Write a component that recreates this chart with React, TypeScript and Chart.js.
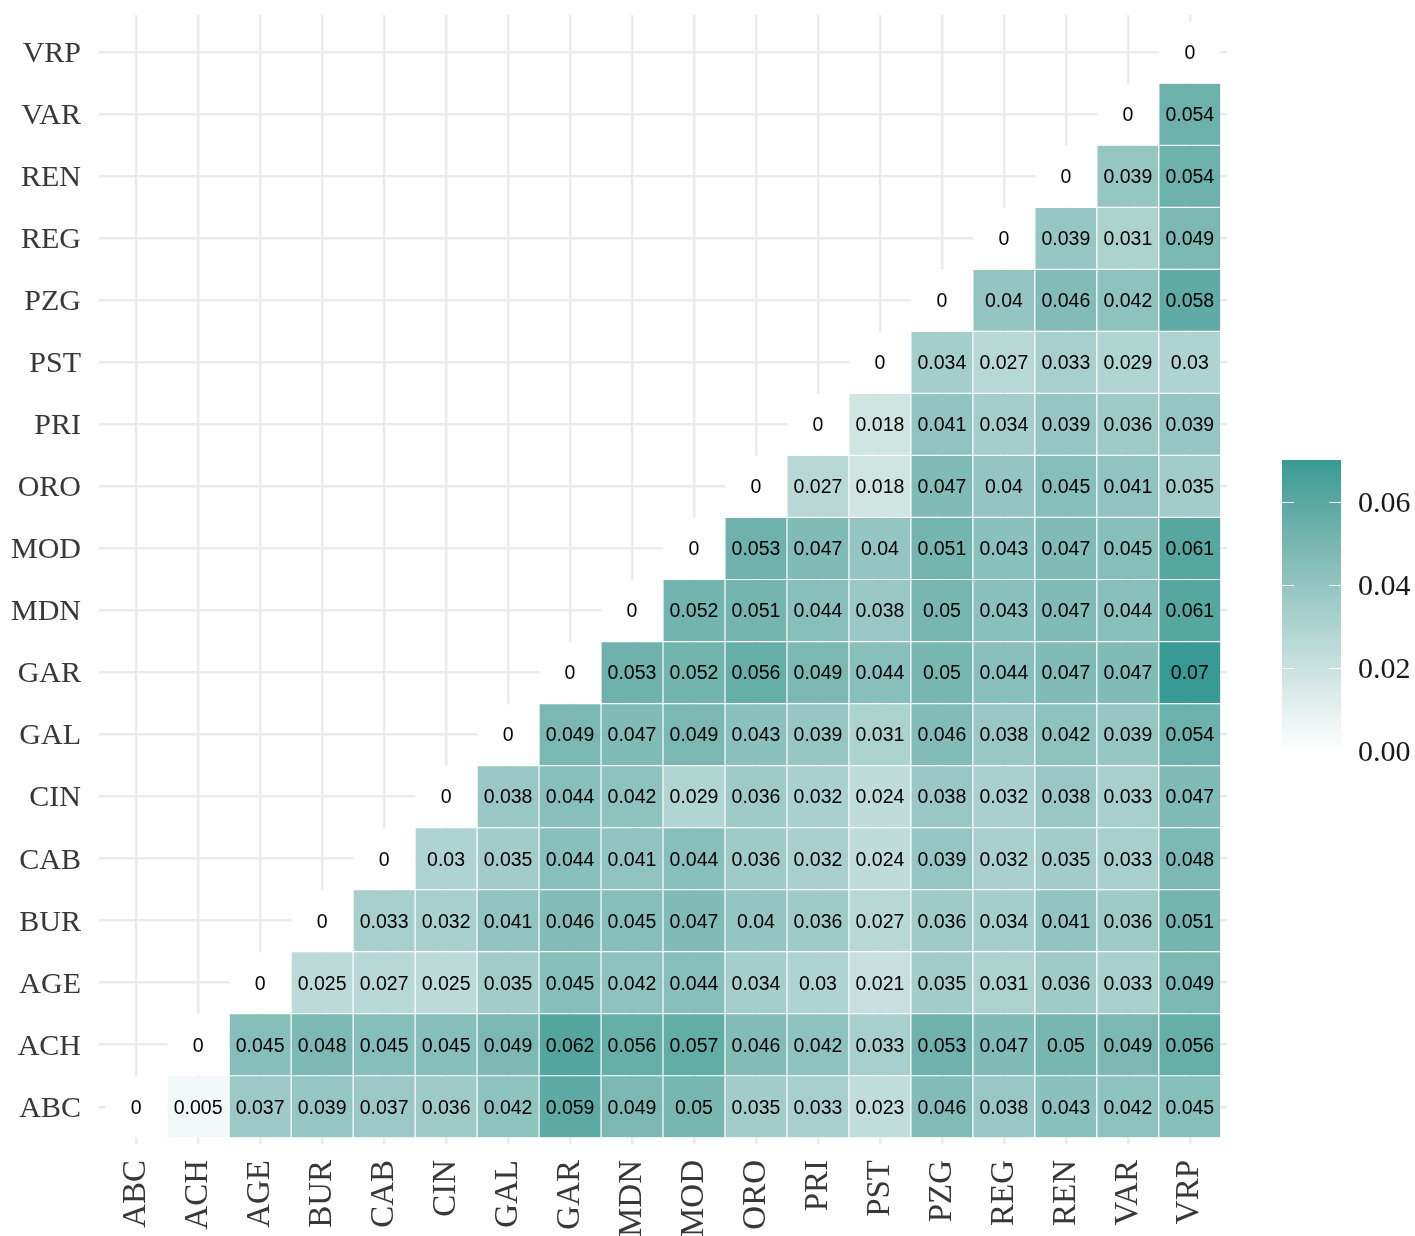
import React, { useEffect, useRef } from "react";
import { Chart, registerables } from "chart.js";

Chart.register(...registerables);

// Population codes, in axis order (bottom-to-top on y, left-to-right on x)
const populations = [
  "ABC", "ACH", "AGE", "BUR", "CAB", "CIN", "GAL", "GAR", "MDN",
  "MOD", "ORO", "PRI", "PST", "PZG", "REG", "REN", "VAR", "VRP",
];

// Pairwise distances: each row starts at its own diagonal cell and runs to VRP
const rowABC = [0, 0.005, 0.037, 0.039, 0.037, 0.036, 0.042, 0.059, 0.049, 0.05, 0.035, 0.033, 0.023, 0.046, 0.038, 0.043, 0.042, 0.045];
const rowACH = [0, 0.045, 0.048, 0.045, 0.045, 0.049, 0.062, 0.056, 0.057, 0.046, 0.042, 0.033, 0.053, 0.047, 0.05, 0.049, 0.056];
const rowAGE = [0, 0.025, 0.027, 0.025, 0.035, 0.045, 0.042, 0.044, 0.034, 0.03, 0.021, 0.035, 0.031, 0.036, 0.033, 0.049];
const rowBUR = [0, 0.033, 0.032, 0.041, 0.046, 0.045, 0.047, 0.04, 0.036, 0.027, 0.036, 0.034, 0.041, 0.036, 0.051];
const rowCAB = [0, 0.03, 0.035, 0.044, 0.041, 0.044, 0.036, 0.032, 0.024, 0.039, 0.032, 0.035, 0.033, 0.048];
const rowCIN = [0, 0.038, 0.044, 0.042, 0.029, 0.036, 0.032, 0.024, 0.038, 0.032, 0.038, 0.033, 0.047];
const rowGAL = [0, 0.049, 0.047, 0.049, 0.043, 0.039, 0.031, 0.046, 0.038, 0.042, 0.039, 0.054];
const rowGAR = [0, 0.053, 0.052, 0.056, 0.049, 0.044, 0.05, 0.044, 0.047, 0.047, 0.07];
const rowMDN = [0, 0.052, 0.051, 0.044, 0.038, 0.05, 0.043, 0.047, 0.044, 0.061];
const rowMOD = [0, 0.053, 0.047, 0.04, 0.051, 0.043, 0.047, 0.045, 0.061];
const rowORO = [0, 0.027, 0.018, 0.047, 0.04, 0.045, 0.041, 0.035];
const rowPRI = [0, 0.018, 0.041, 0.034, 0.039, 0.036, 0.039];
const rowPST = [0, 0.034, 0.027, 0.033, 0.029, 0.03];
const rowPZG = [0, 0.04, 0.046, 0.042, 0.058];
const rowREG = [0, 0.039, 0.031, 0.049];
const rowREN = [0, 0.039, 0.054];
const rowVAR = [0, 0.054];
const rowVRP = [0];

const rows = [
  rowABC, rowACH, rowAGE, rowBUR, rowCAB, rowCIN, rowGAL, rowGAR, rowMDN,
  rowMOD, rowORO, rowPRI, rowPST, rowPZG, rowREG, rowREN, rowVAR, rowVRP,
];

// Colour bar breaks
const legendTicks = [0, 0.02, 0.04, 0.06];

const LOW_COLOR = "#FFFFFF";
const HIGH_COLOR = "#379A94";

// ---- colour ramp, interpolated in CIE Lab ----
function hexToRgb(hex: string): number[] {
  const h = hex.replace("#", "");
  return [0, 2, 4].map((i) => parseInt(h.slice(i, i + 2), 16));
}
function toLinear(c: number) {
  const v = c / 255;
  return v <= 0.04045 ? v / 12.92 : Math.pow((v + 0.055) / 1.055, 2.4);
}
function toSrgb(c: number) {
  const v = c <= 0.0031308 ? 12.92 * c : 1.055 * Math.pow(c, 1 / 2.4) - 0.055;
  return Math.round(Math.min(1, Math.max(0, v)) * 255);
}
const EPS = 216 / 24389;
const KAPPA = 24389 / 27;
function rgbToLab(rgb: number[]): number[] {
  const [R, G, B] = rgb.map(toLinear);
  const X = (0.4124564 * R + 0.3575761 * G + 0.1804375 * B) / 0.95047;
  const Y = 0.2126729 * R + 0.7151522 * G + 0.072175 * B;
  const Z = (0.0193339 * R + 0.119192 * G + 0.9503041 * B) / 1.08883;
  const f = (t: number) => (t > EPS ? Math.cbrt(t) : (KAPPA * t + 16) / 116);
  const fx = f(X), fy = f(Y), fz = f(Z);
  return [116 * fy - 16, 500 * (fx - fy), 200 * (fy - fz)];
}
function labToRgb(lab: number[]): number[] {
  const [L, a, b] = lab;
  const fy = (L + 16) / 116;
  const fx = fy + a / 500;
  const fz = fy - b / 200;
  const inv = (t: number) => (t * t * t > EPS ? t * t * t : (116 * t - 16) / KAPPA);
  const X = inv(fx) * 0.95047, Y = inv(fy), Z = inv(fz) * 1.08883;
  const R = 3.2404542 * X - 1.5371385 * Y - 0.4985314 * Z;
  const G = -0.969266 * X + 1.8760108 * Y + 0.041556 * Z;
  const Bl = 0.0556434 * X - 0.2040259 * Y + 1.0572252 * Z;
  return [toSrgb(R), toSrgb(G), toSrgb(Bl)];
}
const lowLab = rgbToLab(hexToRgb(LOW_COLOR));
const highLab = rgbToLab(hexToRgb(HIGH_COLOR));
const maxValue = Math.max(...rows.flat());

function colorFor(v: number): string {
  const t = Math.min(1, Math.max(0, v / maxValue));
  const lab = lowLab.map((l, i) => l + (highLab[i] - l) * t);
  const [r, g, b] = labToRgb(lab);
  return `rgb(${r},${g},${b})`;
}

// One floating bar per tile: x = column, y spans the row band
type Cell = { x: number; y: [number, number]; v: number };
const cells: Cell[] = [];
rows.forEach((row, j) => {
  row.forEach((v, k) => {
    cells.push({ x: j + k, y: [j - 0.5, j + 0.5], v });
  });
});

const AXIS_COLOR = "#383838";
const GRID_COLOR = "#EBEBEB";
const SERIF = '"Liberation Serif", "Times New Roman", serif';
const SANS = '"Liberation Sans", Arial, sans-serif';

// Values printed at the centre of each tile
const tileLabelPlugin = {
  id: "tileLabels",
  afterDatasetsDraw(chart: any) {
    const { ctx, scales } = chart;
    ctx.save();
    ctx.font = `19.5px ${SANS}`;
    ctx.fillStyle = "#000000";
    ctx.textAlign = "center";
    ctx.textBaseline = "middle";
    cells.forEach((c) => {
      const px = scales.x.getPixelForValue(c.x);
      const py = scales.y.getPixelForValue((c.y[0] + c.y[1]) / 2);
      ctx.fillText(String(c.v), px, py + 1.5);
    });
    ctx.restore();
  },
};

// Population names along the y axis
const yLabelPlugin = {
  id: "yLabels",
  afterDraw(chart: any) {
    const { ctx, scales, chartArea } = chart;
    ctx.save();
    ctx.font = `30px ${SERIF}`;
    ctx.fillStyle = AXIS_COLOR;
    ctx.textAlign = "right";
    ctx.textBaseline = "middle";
    populations.forEach((name, i) => {
      ctx.fillText(name, chartArea.left - 18, scales.y.getPixelForValue(i) + 2);
    });
    ctx.restore();
  },
};

// Continuous colour bar legend on the right
const colorbarPlugin = {
  id: "colorbar",
  afterDraw(chart: any) {
    const { ctx } = chart;
    const left = 1282;
    const width = 59;
    const zeroY = 751;
    const barHeight = 291;
    const topY = zeroY - barHeight;
    const pxPerUnit = barHeight / maxValue;
    ctx.save();
    const grad = ctx.createLinearGradient(0, zeroY, 0, topY);
    const steps = 40;
    for (let k = 0; k <= steps; k++) {
      grad.addColorStop(k / steps, colorFor((k / steps) * maxValue));
    }
    ctx.fillStyle = grad;
    ctx.fillRect(left, topY, width, barHeight);

    const tickLen = width * 0.2;
    ctx.strokeStyle = "#FFFFFF";
    ctx.lineWidth = 1;
    ctx.font = `30px ${SERIF}`;
    ctx.fillStyle = "#1A1A1A";
    ctx.textAlign = "left";
    ctx.textBaseline = "middle";
    legendTicks.forEach((t) => {
      const y = Math.round(zeroY - t * pxPerUnit) + 0.5;
      ctx.beginPath();
      ctx.moveTo(left, y);
      ctx.lineTo(left + tickLen, y);
      ctx.moveTo(left + width - tickLen, y);
      ctx.lineTo(left + width, y);
      ctx.stroke();
      ctx.fillText(t.toFixed(2), 1358, y + 2);
    });
    ctx.restore();
  },
};

const integerTicks = (scale: any) => {
  scale.ticks = populations.map((_, i) => ({ value: i }));
};

export default function App() {
  const canvasRef = useRef<HTMLCanvasElement>(null);

  useEffect(() => {
    document.body.style.margin = "0";
    const canvas = canvasRef.current;
    if (!canvas) return;
    const chart = new Chart(canvas, {
      type: "bar",
      data: {
        datasets: [
          {
            data: cells as any,
            grouped: false,
            barPercentage: 1,
            categoryPercentage: 1,
            backgroundColor: (ctx: any) => colorFor(ctx.raw ? ctx.raw.v : 0),
            borderColor: "#FFFFFF",
            borderWidth: 0.6,
            borderSkipped: false,
            inflateAmount: 0,
          } as any,
        ],
      },
      options: {
        responsive: false,
        animation: false,
        devicePixelRatio: 1,
        events: [],
        layout: { padding: { top: 15, right: 188, bottom: 0, left: 0 } },
        plugins: {
          legend: { display: false },
          tooltip: { enabled: false },
        },
        scales: {
          x: {
            type: "linear",
            min: -0.6,
            max: 17.6,
            bounds: "data",
            offset: false,
            afterBuildTicks: integerTicks,
            afterFit: (scale: any) => {
              scale.height = 92;
              scale.paddingLeft = 0;
              scale.paddingRight = 0;
            },
            grid: {
              color: GRID_COLOR,
              lineWidth: 2.5,
              drawTicks: false,
              offset: false,
            },
            border: { display: false },
            ticks: {
              autoSkip: false,
              minRotation: 90,
              maxRotation: 90,
              padding: 16,
              color: AXIS_COLOR,
              font: { family: SERIF, size: 33 },
              callback: (v: any) => populations[v] ?? "",
            },
          },
          y: {
            type: "linear",
            min: -0.6,
            max: 17.6,
            bounds: "data",
            beginAtZero: false,
            afterBuildTicks: integerTicks,
            afterFit: (scale: any) => {
              scale.width = 99;
              scale.paddingTop = 0;
              scale.paddingBottom = 0;
            },
            grid: {
              color: GRID_COLOR,
              lineWidth: 2.5,
              drawTicks: false,
            },
            border: { display: false },
            ticks: { display: false },
          },
        },
      } as any,
      plugins: [tileLabelPlugin, yLabelPlugin, colorbarPlugin],
    });
    return () => chart.destroy();
  }, []);

  return (
    <div style={{ width: 1415, height: 1236 }}>
      <canvas ref={canvasRef} width={1415} height={1236} style={{ display: "block" }} />
    </div>
  );
}
